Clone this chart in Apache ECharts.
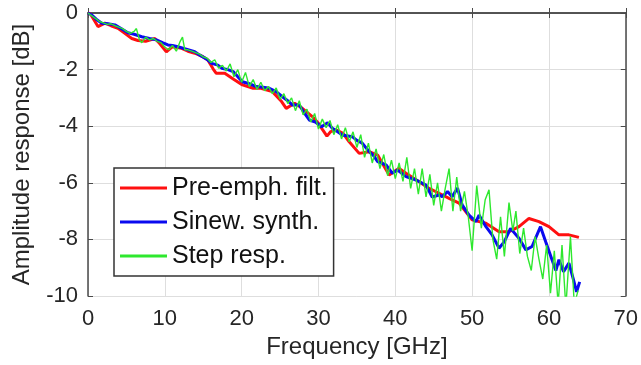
<!DOCTYPE html>
<html>
<head>
<meta charset="utf-8">
<style>
    html, body {margin:0;padding:0;background:#fff;}
    #chart {width:641px;height:365px;}
</style>
</head>
<body>
<div id="chart"></div>
<script src="https://cdn.jsdelivr.net/npm/echarts@6/dist/echarts.min.js"></script>
<script>
// values (GHz, dB)
var redFreq = [0, 0.3, 1.3, 2.2, 3.0, 3.9, 4.8, 5.7, 6.5, 7.5, 8.7, 9.3, 10.2, 11.0, 12.2, 13.0, 13.9, 14.8, 15.6, 16.3,
    16.7, 17.8, 19.0, 20.1, 21.5, 22.5, 24.0, 25.2, 25.8, 26.9, 27.9, 29.2, 30.0, 30.6, 31.1, 31.6, 32.3, 33.2, 34.0, 35.3,
    36.6, 37.7, 38.5, 39.2, 40.5, 41.4, 43.1, 44.4, 45.7, 47.0, 48.3, 50.0, 51.8, 53.5, 54.8, 56.1, 57.4, 58.7, 60.0, 61.3,
    62.6, 63.9];
var redAmp = [0, -0.03, -0.48, -0.36, -0.45, -0.54, -0.72, -0.9, -0.97, -1.0, -0.9, -1.07, -1.37, -1.19, -1.25, -1.35, -1.42, -1.52, -1.66, -1.98,
    -2.13, -2.13, -2.35, -2.54, -2.66, -2.66, -2.78, -3.13, -3.37, -3.19, -3.37, -3.66, -3.9, -4.15, -4.35, -4.19, -4.13, -4.25, -4.55, -4.96,
    -4.9, -5.02, -5.4, -5.72, -5.49, -5.66, -5.96, -6.2, -6.37, -6.55, -6.72, -7.31, -7.43, -7.73, -7.73, -7.55, -7.26, -7.37, -7.55, -7.84,
    -7.84, -7.93];

var blueFreq = [0, 0.5, 1.2, 1.8, 2.6, 3.5, 4.3, 5.2, 6.0, 7.0, 8.0, 8.9, 9.7, 10.4, 11.0, 11.7, 12.8, 13.9, 14.5, 15.4,
    16.1, 16.9, 17.4, 18.2, 18.9, 19.5, 20.1, 21.0, 21.9, 22.8, 23.6, 24.5, 25.3, 26.0, 26.6, 27.5, 28.2, 28.8, 29.6, 30.4,
    31.2, 31.8, 32.5, 33.1, 34.4, 35.0, 35.7, 36.6, 37.2, 37.7, 38.8, 39.6, 40.3, 41.4, 42.7, 44.0, 44.8, 45.7, 46.1, 46.8,
    47.4, 48.1, 48.7, 49.6, 50.5, 50.9, 51.8, 52.6, 53.5, 54.2, 55.0, 56.1, 57.0, 57.8, 58.9, 59.6, 60.4, 60.9, 61.3, 61.9,
    62.6, 63.2, 63.6, 64.0];
var blueAmp = [0, -0.07, -0.25, -0.36, -0.38, -0.42, -0.55, -0.7, -0.75, -0.84, -0.9, -0.95, -1.05, -1.13, -1.15, -1.19, -1.28, -1.37, -1.48, -1.62,
    -1.78, -1.84, -1.95, -2.0, -2.07, -2.25, -2.43, -2.5, -2.6, -2.62, -2.66, -2.78, -2.96, -3.1, -3.25, -3.25, -3.55, -3.78, -3.85, -4.02,
    -3.88, -4.07, -4.2, -4.31, -4.37, -4.5, -4.6, -4.9, -5.05, -5.25, -5.37, -5.66, -5.55, -5.78, -5.9, -6.08, -6.5, -6.43, -6.49, -6.31,
    -6.49, -6.19, -6.78, -7.14, -7.37, -7.14, -7.55, -7.84, -8.31, -8.08, -7.61, -7.96, -8.37, -8.25, -7.55, -8.1, -8.72, -9.1, -8.72, -9.14,
    -8.84, -9.43, -9.85, -9.5];

var greenFreq = [0, 0.5, 1.0, 1.5, 2.0, 2.5, 3.0, 3.5, 4.0, 4.5, 5.0, 5.5, 6.0, 6.3, 6.7, 7.0, 7.5, 8.0, 8.5, 9.0,
    9.5, 10.0, 10.5, 11.0, 11.5, 12.0, 12.3, 12.6, 13.0, 13.5, 14.0, 14.5, 15.0, 15.5, 16.0, 16.5, 17.0, 17.5, 18.0, 18.5,
    19.0, 19.5, 20.0, 20.5, 21.0, 21.5, 22.0, 22.5, 23.0, 23.5, 24.0, 24.5, 25.0, 25.5, 26.0, 26.5, 27.0, 27.5, 28.0, 28.5,
    29.0, 29.5, 30.0, 30.5, 31.0, 31.5, 32.0, 32.5, 33.0, 33.5, 34.0, 34.5, 35.0, 35.5, 36.0, 36.5, 37.0, 37.5, 38.0, 38.5,
    39.0, 39.5, 40.0, 40.5, 41.0, 41.5, 42.0, 42.5, 43.0, 43.5, 44.0, 44.5, 45.0, 45.5, 46.0, 46.5, 47.0, 47.5, 48.0, 48.5,
    49.0, 49.5, 50.0, 50.6, 51.2, 51.7, 52.2, 52.7, 53.2, 53.7, 54.2, 54.8, 55.3, 55.7, 56.2, 56.7, 57.2, 57.7, 58.2, 58.7,
    59.2, 59.7, 60.2, 60.7, 61.2, 61.7, 62.2, 62.8, 63.3, 63.8];
var greenAmp = [0, -0.1, -0.2, -0.3, -0.35, -0.4, -0.38, -0.45, -0.5, -0.55, -0.65, -0.72, -0.65, -0.55, -0.95, -1.05, -0.85, -0.95, -0.9, -1.0,
    -1.05, -1.2, -1.3, -1.15, -1.35, -1.0, -0.85, -1.3, -1.3, -1.35, -1.4, -1.45, -1.55, -1.6, -1.75, -1.65, -1.95, -1.85, -2.05, -1.8,
    -2.25, -2.0, -2.45, -2.1, -2.6, -2.35, -2.7, -2.45, -2.75, -2.6, -2.85, -2.65, -3.05, -2.85, -3.2, -3.0, -3.45, -3.1, -3.6, -3.4,
    -3.85, -3.55, -4.1, -3.75, -4.05, -3.8, -4.3, -3.95, -4.45, -4.05, -4.55, -4.2, -4.75, -4.3, -5.1, -4.6, -5.3, -4.8, -5.5, -5.0,
    -5.75, -5.2, -5.85, -5.3, -5.95, -5.1, -6.2, -5.5, -6.4, -5.5, -6.5, -5.7, -6.8, -6.0, -7.0, -6.2, -5.5, -7.0, -5.8, -7.0,
    -6.3, -7.2, -8.4, -6.1, -7.6, -6.6, -6.25, -8.0, -8.7, -7.2, -8.6, -6.7, -7.7, -7.0, -8.5, -7.6, -8.6, -9.1, -7.9, -8.7,
    -9.4, -8.2, -9.9, -8.4, -10.3, -8.2, -10.4, -7.9, -10.3, -9.8];

var seriesNames = ['Pre-emph. filt.', 'Sinew. synth.', 'Step resp.'];

function pairs(xs, ys) {
    var out = [];
    for (var i = 0; i < xs.length; i++) out.push([xs[i], ys[i]]);
    return out;
}

var axisColor = '#4a4a4a';
var labelColor = '#262626';
var font = 'Liberation Sans, Arial, sans-serif';

var option = {
    animation: false,
    backgroundColor: '#fff',
    grid: {left: 88, right: 14, top: 13, bottom: 69},
    legend: {
        orient: 'vertical',
        left: 114,
        top: 168,
        padding: [7, 6, 7, 6],
        itemGap: 8,
        itemWidth: 47,
        itemHeight: 3,
        icon: 'rect',
        backgroundColor: '#fff',
        borderColor: '#333',
        borderWidth: 1.5,
        borderRadius: 0,
        data: seriesNames,
        textStyle: {fontFamily: font, fontSize: 25, color: '#111', lineHeight: 26}
    },
    xAxis: [{
        type: 'value', min: 0, max: 70, interval: 10, position: 'bottom',
        name: 'Frequency [GHz]', nameLocation: 'middle', nameGap: 38,
        nameTextStyle: {fontFamily: font, fontSize: 24, color: labelColor},
        axisLine: {show: true, lineStyle: {color: axisColor, width: 1.5}},
        axisTick: {show: true, inside: true, length: 5, lineStyle: {color: axisColor}},
        axisLabel: {fontFamily: font, fontSize: 22, color: labelColor, margin: 12},
        splitLine: {show: true, lineStyle: {color: '#dedede', width: 1}}
    }, {
        type: 'value', min: 0, max: 70, interval: 10, position: 'top',
        axisLine: {show: true, onZero: false, lineStyle: {color: axisColor, width: 1.5}},
        axisTick: {show: true, inside: true, length: 5, lineStyle: {color: axisColor}},
        axisLabel: {show: false},
        splitLine: {show: false}
    }],
    yAxis: [{
        type: 'value', min: -10, max: 0, interval: 2, position: 'left',
        name: 'Amplitude response [dB]', nameLocation: 'middle', nameGap: 54,
        nameTextStyle: {fontFamily: font, fontSize: 24, color: labelColor},
        axisLine: {show: true, onZero: false, lineStyle: {color: axisColor, width: 1.5}},
        axisTick: {show: true, inside: true, length: 5, lineStyle: {color: axisColor}},
        axisLabel: {fontFamily: font, fontSize: 22, color: labelColor, margin: 10},
        splitLine: {show: true, lineStyle: {color: '#dedede', width: 1}}
    }, {
        type: 'value', min: -10, max: 0, interval: 2, position: 'right',
        axisLine: {show: true, onZero: false, lineStyle: {color: axisColor, width: 1.5}},
        axisTick: {show: true, inside: true, length: 5, lineStyle: {color: axisColor}},
        axisLabel: {show: false},
        splitLine: {show: false}
    }],
    series: [{
        name: seriesNames[0], type: 'line', symbol: 'none', clip: true,
        data: pairs(redFreq, redAmp),
        itemStyle: {color: '#ff1010'},
        lineStyle: {color: '#ff1010', width: 3}
    }, {
        name: seriesNames[1], type: 'line', symbol: 'none', clip: true,
        data: pairs(blueFreq, blueAmp),
        itemStyle: {color: '#0a0aef'},
        lineStyle: {color: '#0a0aef', width: 3}
    }, {
        name: seriesNames[2], type: 'line', symbol: 'none', clip: true,
        data: pairs(greenFreq, greenAmp),
        itemStyle: {color: '#2ee82e'},
        lineStyle: {color: '#2ee82e', width: 1.4}
    }]
};

echarts.init(document.getElementById('chart'), null, {renderer: 'canvas'}).setOption(option);
</script>
</body>
</html>
